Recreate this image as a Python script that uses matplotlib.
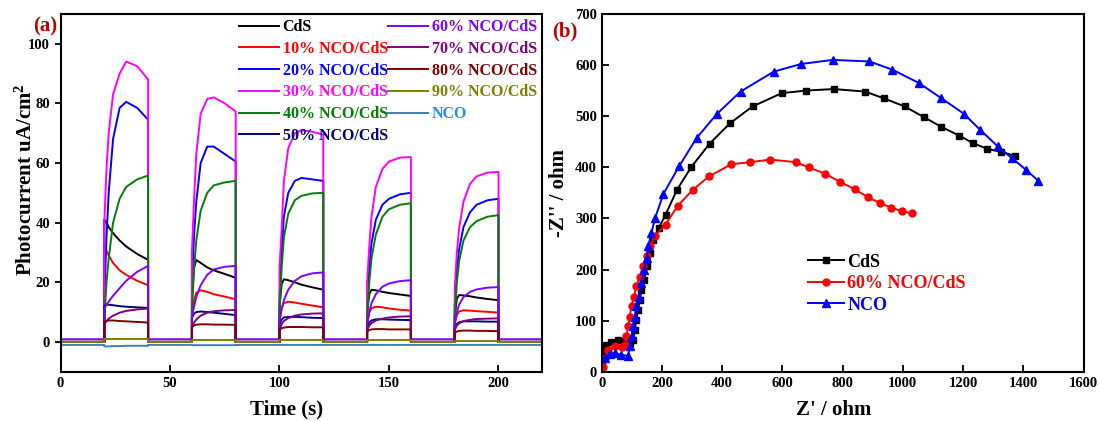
import numpy as np
import matplotlib.pyplot as plt

plt.rcParams['font.family'] = ['Liberation Serif', 'DejaVu Serif']
plt.rcParams['font.weight'] = 'bold'
plt.rcParams['axes.labelweight'] = 'bold'
plt.rcParams['mathtext.fontset'] = 'custom'
plt.rcParams['mathtext.rm'] = 'Liberation Serif:bold'
plt.rcParams['mathtext.it'] = 'Liberation Serif:bold'
plt.rcParams['mathtext.bf'] = 'Liberation Serif:bold'

# ---------------------------------------------------------------
# (a) transient photocurrent: light on 20 s / off 20 s
# ---------------------------------------------------------------
cycle_start = [20, 60, 100, 140, 180]
on_offsets = [0, 1, 2, 4, 7, 10, 15, 20]   # s after light on
t_end = 220

labels_a = ['CdS', '10% NCO/CdS', '20% NCO/CdS', '30% NCO/CdS', '40% NCO/CdS',
            '50% NCO/CdS', '60% NCO/CdS', '70% NCO/CdS', '80% NCO/CdS',
            '90% NCO/CdS', 'NCO']
colors_a = ['#000000', '#ff0000', '#0000ff', '#ff00ff', '#008000', '#000080',
            '#8000ff', '#800080', '#800000', '#808000', '#3a7fc0']
text_colors_a = colors_a[:-1] + ['#1e90ff']
baseline_a = [0.0, 0.0, 0.0, 0.0, 0.0, 0.0, 0.9, 0.0, 0.0, 0.0, -1.0]

cds_on = [[41, 40, 38.5, 36.5, 34, 32, 29.5, 27.5],
          [15, 25, 27.5, 26.5, 25, 24, 22.8, 21.5],
          [12, 19.5, 21, 20.7, 20, 19.2, 18.3, 17.5],
          [10, 16, 17.5, 17.3, 16.8, 16.4, 15.9, 15.4],
          [9, 14.5, 15.7, 15.6, 15.3, 14.9, 14.4, 14]]
p10_on = [[32, 30.5, 29, 26.5, 24, 22.5, 20.5, 19],
          [8, 14, 16.5, 17.3, 16.8, 16, 15.2, 14.3],
          [7, 11.5, 13, 13.5, 13.2, 12.8, 12.2, 11.6],
          [6, 10, 11.3, 11.8, 11.6, 11.2, 10.8, 10.5],
          [6, 9, 10.2, 10.6, 10.5, 10.3, 10.1, 9.8]]
p20_on = [[15, 35, 50, 68, 78.5, 80.5, 78.5, 74.5],
          [20, 36, 47, 60, 65.5, 65.5, 63, 60.5],
          [15, 30, 42, 50, 54, 55, 54.5, 54],
          [12, 25, 33, 41, 46, 48, 49.5, 50],
          [12, 24, 31, 38.5, 43.5, 46, 47.5, 48]]
p30_on = [[40, 58, 70, 83, 90, 94, 92.5, 88],
          [30, 48, 63, 76.5, 81.5, 82, 80, 77.3],
          [25, 38, 54, 65, 70, 71, 70.5, 69.5],
          [20, 32, 42, 52, 58, 60.5, 61.8, 62],
          [18, 30, 38, 47, 53, 55.5, 56.8, 57]]
p40_on = [[7, 20, 28, 40, 48, 52, 54.5, 55.8],
          [10, 25, 34, 44, 50, 52.5, 53.5, 54],
          [10, 25, 35, 43, 47.5, 49, 49.8, 50],
          [8, 20, 28, 36, 42, 44.5, 46, 46.5],
          [8, 20, 27, 34, 38.5, 40.5, 42, 42.5]]
p50_on = [[12, 12.5, 12.5, 12.3, 12, 11.8, 11.6, 11.4],
          [8, 9.5, 10, 10.2, 10, 9.8, 9.4, 9],
          [6, 7.5, 8.2, 8.4, 8.4, 8.3, 8.1, 8],
          [5, 6.5, 7.2, 7.6, 7.6, 7.5, 7.4, 7.3],
          [5, 6, 6.6, 6.9, 6.9, 6.9, 6.8, 6.8]]
p60_on = [[11, 12.5, 13.5, 15.5, 18, 20.5, 23.5, 25.5],
          [8, 12, 15, 19, 22.5, 24.3, 25.2, 25.5],
          [7, 11, 14, 17.5, 20.5, 22, 23, 23.3],
          [6, 10, 13, 16, 18.5, 19.6, 20.4, 20.7],
          [6, 10, 12.5, 15, 16.8, 17.6, 18.2, 18.4]]
p70_on = [[6, 7, 7.8, 8.8, 9.8, 10.4, 10.9, 11.2],
          [5, 6.5, 7.5, 8.8, 9.8, 10.3, 10.6, 10.7],
          [4, 6, 7, 8, 8.8, 9.2, 9.5, 9.6],
          [4, 5.5, 6.3, 7.2, 7.8, 8.2, 8.5, 8.6],
          [4, 5.5, 6.2, 7, 7.4, 7.7, 7.8, 7.9]]
p80_on = [[6.5, 7, 7.2, 7.2, 7, 6.9, 6.7, 6.5],
          [5, 5.5, 5.8, 5.9, 5.9, 5.8, 5.8, 5.7],
          [4, 4.6, 4.8, 5, 5, 5, 4.9, 4.9],
          [3.5, 4, 4.2, 4.3, 4.3, 4.2, 4.2, 4.2],
          [3, 3.5, 3.7, 3.8, 3.8, 3.7, 3.7, 3.6]]
p90_on = [[1.0, 1.0, 1.0, 1.0, 1.0, 1.0, 1.0, 1.0],
          [0.8, 0.8, 0.8, 0.8, 0.8, 0.8, 0.8, 0.8],
          [0.6, 0.6, 0.6, 0.6, 0.6, 0.6, 0.6, 0.6],
          [0.5, 0.5, 0.5, 0.5, 0.5, 0.5, 0.5, 0.5],
          [0.4, 0.4, 0.4, 0.4, 0.4, 0.4, 0.4, 0.4]]
nco_on = [[-1.5, -1.5, -1.5, -1.4, -1.4, -1.3, -1.3, -1.3],
          [-1.1, -1.1, -1.1, -1.1, -1.1, -1.1, -1.1, -1.1],
          [-1.0, -1.0, -1.0, -1.0, -1.0, -1.0, -1.0, -1.0],
          [-1.0, -1.0, -1.0, -1.0, -1.0, -1.0, -1.0, -1.0],
          [-1.0, -1.0, -1.0, -1.0, -1.0, -1.0, -1.0, -1.0]]
series_a = [cds_on, p10_on, p20_on, p30_on, p40_on, p50_on,
            p60_on, p70_on, p80_on, p90_on, nco_on]

# ---------------------------------------------------------------
# (b) Nyquist plots
# ---------------------------------------------------------------
cds_zre = [0, 4, 15, 32, 54, 76, 93, 104, 110, 115, 121, 126, 132, 141, 149, 160,
           171, 190, 212, 250, 297, 358, 426, 501, 598, 679, 770, 875, 936, 1006,
           1070, 1128, 1187, 1234, 1280, 1327, 1374]
cds_zim = [20, 37, 53, 59, 63, 61, 56, 63, 82, 102, 121, 141, 160, 180, 206, 232,
           258, 282, 307, 356, 400, 446, 486, 519, 545, 550, 553, 548, 535, 519,
           498, 479, 462, 447, 436, 430, 422]
p60_zre = [4, 10, 21, 43, 66, 77, 82, 88, 93, 99, 107, 115, 126, 137, 149, 160, 176,
           212, 253, 303, 356, 431, 494, 560, 644, 687, 743, 793, 840, 883, 924,
           961, 998, 1029]
p60_zim = [10, 27, 43, 50, 48, 53, 69, 89, 108, 128, 147, 167, 186, 206, 226, 245,
           265, 288, 325, 356, 382, 406, 410, 415, 410, 400, 387, 371, 357, 342,
           330, 321, 314, 310]
nco_zre = [10, 27, 43, 65, 88, 93, 99, 104, 110, 115, 123, 132, 141, 149, 154, 165,
           177, 205, 257, 315, 382, 461, 571, 662, 767, 889, 965, 1053, 1128, 1202,
           1257, 1315, 1362, 1409, 1449]
nco_zim = [27, 35, 37, 33, 31, 50, 69, 89, 108, 128, 147, 173, 200, 222, 245, 271,
           300, 348, 402, 457, 504, 548, 587, 602, 610, 607, 591, 565, 535, 505,
           473, 441, 418, 395, 374]


def build_trace(on_vals, base):
    # light on/off square-wave trace with vertical edges
    t = [0.0]
    y = [base]
    for start, vals in zip(cycle_start, on_vals):
        t.append(start)
        y.append(base)
        for off, v in zip(on_offsets, vals):
            t.append(start + off)
            y.append(v)
        t.append(start + on_offsets[-1])
        y.append(base)
    t.append(t_end)
    y.append(base)
    return np.array(t), np.array(y)


fig = plt.figure(figsize=(11, 4.21), dpi=100)
ax1 = fig.add_axes([0.055, 0.117, 0.438, 0.85])
ax2 = fig.add_axes([0.547, 0.117, 0.438, 0.85])

for vals, base, col, lab in zip(series_a, baseline_a, colors_a, labels_a):
    t, y = build_trace(vals, base)
    ax1.plot(t, y, color=col, lw=1.4, label=lab)

ax1.set_xlim(0, 220)
ax1.set_ylim(-10, 110)
ax1.set_xticks([0, 50, 100, 150, 200])
ax1.set_yticks([0, 20, 40, 60, 80, 100])
ax1.tick_params(axis='x', direction='in', length=5, width=1.3, labelsize=10.5)
ax1.tick_params(axis='y', direction='out', length=4, width=1.3, labelsize=10.5)
ax1.set_xlabel('Time (s)', fontsize=15)
ax1.set_ylabel('Photocurrent uA/cm$^2$', fontsize=15)
ax1.xaxis.set_label_coords(0.469, -0.105, transform=ax1.transAxes)
ax1.yaxis.set_label_coords(-0.05, 0.536, transform=ax1.transAxes)
ax1.xaxis.label.set_va('center')
for sp in ax1.spines.values():
    sp.set_linewidth(1.5)
leg1 = ax1.legend(ncol=2, loc='upper left', bbox_to_anchor=(0.35, 1.012),
                  frameon=False, fontsize=11.5, handlelength=2.5, handletextpad=0.25,
                  columnspacing=0.0, labelspacing=0.36, borderpad=0.1)
for txt, col in zip(leg1.get_texts(), text_colors_a):
    txt.set_color(col)
fig.text(0.030, 0.926, '(a)', color='#c00000', fontsize=15, fontweight='bold')

ax2.plot(cds_zre, cds_zim, '-s', color='black', lw=1.4, ms=5, label='CdS')
ax2.plot(p60_zre, p60_zim, '-o', color='#ff0000', lw=1.4, ms=5, label='60% NCO/CdS')
ax2.plot(nco_zre, nco_zim, '-^', color='#0000ff', lw=1.4, ms=6, label='NCO')
ax2.set_xlim(0, 1600)
ax2.set_ylim(0, 700)
ax2.set_xticks(np.arange(0, 1601, 200))
ax2.set_yticks(np.arange(0, 701, 100))
ax2.tick_params(direction='in', length=5, width=1.3, labelsize=10.5)
ax2.set_xlabel("Z' / ohm", fontsize=15)
ax2.set_ylabel("-Z'' / ohm", fontsize=15, labelpad=4)
ax2.xaxis.set_label_coords(0.481, -0.106, transform=ax2.transAxes)
ax2.xaxis.label.set_va('center')
for sp in ax2.spines.values():
    sp.set_linewidth(1.5)
leg2 = ax2.legend(loc='upper left', bbox_to_anchor=(0.405, 0.36), frameon=False,
                  fontsize=13, handlelength=2.0, handletextpad=0.2,
                  labelspacing=0.25, borderpad=0.1)
for txt, col in zip(leg2.get_texts(), ['black', '#ff0000', '#0000ff']):
    txt.set_color(col)
fig.text(0.502, 0.914, '(b)', color='#c00000', fontsize=15, fontweight='bold')

fig.savefig('out.png', dpi=100)
